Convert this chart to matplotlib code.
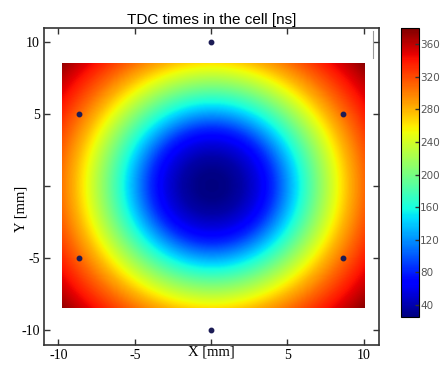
import numpy as np
import matplotlib as mpl; mpl.use("Agg")
import matplotlib.pyplot as plt

# radial drift-time profile (r in mm -> t in ns)
radius_mm = [0, 1, 2, 3, 4, 5, 6, 7, 8, 9, 10, 11, 12, 13.2]
time_ns = [25, 28, 38, 56, 84, 125, 166, 206, 244, 280, 308, 332, 353, 378]
cell_extent = [-9.8, 10.0, -8.5, 8.5]

# wire positions (hexagon, r = 10 mm)
wire_x = [0, 0, -8.66, 8.66, -8.66, 8.66]
wire_y = [10, -10, 5, 5, -5, -5]

tick_pos = [-10, -5, 0, 5, 10]
tick_lab = ["-10", "-5", "", "5", "10"]
cbar_ticks = [40, 80, 120, 160, 200, 240, 280, 320, 360]

xs = np.linspace(cell_extent[0], cell_extent[1], 300)
ys = np.linspace(cell_extent[2], cell_extent[3], 260)
X, Y = np.meshgrid(xs, ys)
T = np.interp(np.hypot(X, Y), radius_mm, time_ns)

fig = plt.figure(figsize=(4.42, 3.68), dpi=100)
ax = fig.add_axes([0.0995, 0.0625, 0.758, 0.8614])
cax = fig.add_axes([0.907, 0.1386, 0.0407, 0.7853])

im = ax.imshow(T, origin="lower", extent=cell_extent, cmap="jet", vmin=25, vmax=380,
               aspect="auto", interpolation="bilinear")
ax.plot(wire_x, wire_y, "o", ms=3.2, color="#1c1c55", zorder=3)
ax.set_xlim(-10.95, 11.0); ax.set_ylim(-11.04, 11.0)

serif = "Liberation Serif"
ax.set_xticks(tick_pos); ax.set_xticklabels(tick_lab, family=serif, fontsize=10)
ax.set_yticks(tick_pos); ax.set_yticklabels(tick_lab, family=serif, fontsize=10)
ax.tick_params(direction="in", top=True, right=True, length=4, width=1, color="#333", pad=3)
for s in ax.spines.values():
    s.set_color("#333"); s.set_linewidth(1.2)
ax.set_xlabel("X [mm]", family=serif, fontsize=10.5, labelpad=-12)
ax.set_ylabel("Y [mm]", family=serif, fontsize=10.5)
ax.yaxis.set_label_coords(-0.05, 0.43)
ax.set_title("TDC times in the cell [ns]", family="Liberation Sans", fontsize=11, pad=3)
# stray grey mark near the top right corner
ax.plot([0.982, 0.982], [0.905, 0.99], transform=ax.transAxes, color="#999", lw=0.8)

cb = fig.colorbar(im, cax=cax, ticks=cbar_ticks)
cb.outline.set_linewidth(0.8)
cax.tick_params(direction="in", length=3, width=1, color="#333", pad=1, labelsize=7.5,
                labelcolor="#555")

fig.savefig("out.png", dpi=100)
